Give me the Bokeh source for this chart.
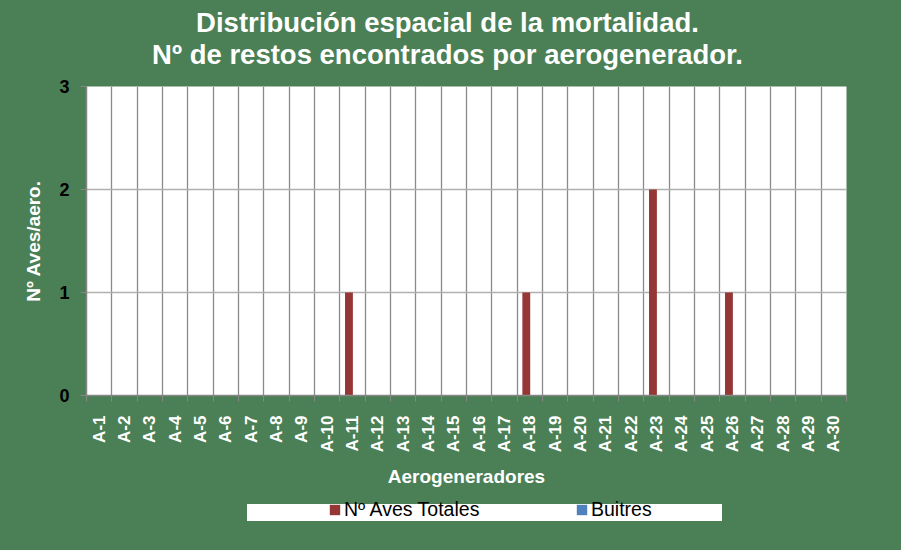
from math import pi
from bokeh.plotting import figure
from bokeh.layouts import column
from bokeh.models import (Range1d, FixedTicker, Legend, LegendItem, Label,
                          ColumnDataSource)
from bokeh.transform import dodge
from bokeh.embed import file_html
from bokeh.resources import INLINE

# ---- data ----
categories = ["A-%d" % i for i in range(1, 31)]
aves_totales = [0, 0, 0, 0, 0, 0, 0, 0, 0, 0, 1, 0, 0, 0, 0, 0, 0, 1, 0, 0,
                0, 0, 2, 0, 0, 1, 0, 0, 0, 0]
buitres = [0] * 30
y_ticks = [0, 1, 2, 3]

title_line1 = "Distribución espacial de la mortalidad."
title_line2 = "Nº de restos encontrados por aerogenerador."
y_label = "Nº Aves/aero."
x_label = "Aerogeneradores"
series_names = ["Nº Aves Totales", "Buitres"]

GREEN = "#4b7f56"
RED = "#953735"
BLUE = "#4f81bd"
FONT = "Liberation Sans"
W = 901


def strip(height):
    f = figure(width=W, height=height, output_backend="svg", toolbar_location=None,
               x_axis_type=None, y_axis_type=None,
               x_range=Range1d(0, W), y_range=Range1d(0, height),
               min_border=0, min_border_left=0, min_border_right=0,
               min_border_top=0, min_border_bottom=0)
    f.border_fill_color = GREEN
    f.background_fill_color = None
    f.outline_line_color = None
    f.grid.visible = False
    return f


# ---------- title strip (its frame is aligned with the chart frame) ----------
top = strip(70)
for txt, yy in [(title_line1, 48), (title_line2, 16)]:
    top.add_layout(Label(x=361, y=yy, x_units="screen", y_units="screen", text=txt,
                         text_align="center", text_baseline="middle",
                         text_font=FONT, text_font_style="bold",
                         text_font_size="27.5px", text_color="white"))

# ---------- main chart ----------
positions = list(range(1, len(categories) + 1))
p = figure(width=W, height=420, output_backend="svg", toolbar_location=None,
           x_range=Range1d(0.5, 30.5), y_range=Range1d(0, 3),
           min_border_left=86, min_border_right=55, min_border_top=16,
           min_border_bottom=95)
p.border_fill_color = GREEN
p.background_fill_color = "white"
p.outline_line_color = None

src = ColumnDataSource(dict(x=positions, aves=aves_totales, buitres=buitres))
# clustered bars: first series left of centre, second right of centre
p.vbar(x=dodge("x", -0.14, range=p.x_range), top="aves", width=0.31,
       source=src, fill_color=RED, line_color=None)
p.vbar(x=dodge("x", 0.16, range=p.x_range), top="buitres", width=0.31,
       source=src, fill_color=BLUE, line_color=None)

# x axis: labels at category centres, ticks/grid at category boundaries
p.xaxis.ticker = FixedTicker(ticks=positions,
                             minor_ticks=[i + 0.5 for i in range(0, 31)])
p.xaxis.major_label_overrides = {pos: lab for pos, lab in zip(positions, categories)}
p.xaxis.major_label_orientation = pi / 2
p.xaxis.major_tick_out = 0
p.xaxis.major_tick_in = 0
p.xaxis.minor_tick_out = 6
p.xaxis.minor_tick_in = 0
p.xaxis.minor_tick_line_color = "#868686"
p.xaxis.axis_line_color = "#868686"
p.xaxis.axis_line_width = 1.5
p.xaxis.major_label_standoff = 14
p.xaxis.major_label_text_font = FONT
p.xaxis.major_label_text_font_style = "bold"
p.xaxis.major_label_text_font_size = "17px"
p.xaxis.major_label_text_color = "white"
p.xaxis.axis_label = x_label
p.xaxis.axis_label_standoff = 11
p.xaxis.axis_label_text_font = FONT
p.xaxis.axis_label_text_font_style = "bold"
p.xaxis.axis_label_text_font_size = "19px"
p.xaxis.axis_label_text_color = "white"

p.xgrid.grid_line_color = None
p.xgrid.minor_grid_line_color = "#8a8a8a"
p.xgrid.minor_grid_line_width = 1.3

p.yaxis.ticker = FixedTicker(ticks=y_ticks)
p.yaxis.minor_tick_line_color = None
p.yaxis.major_tick_out = 6
p.yaxis.major_tick_in = 0
p.yaxis.major_tick_line_color = "#868686"
p.yaxis.axis_line_color = "#868686"
p.yaxis.axis_line_width = 1.5
p.yaxis.major_label_standoff = 11
p.yaxis.major_label_text_font = FONT
p.yaxis.major_label_text_font_style = "bold"
p.yaxis.major_label_text_font_size = "18px"
p.yaxis.major_label_text_color = "black"
p.yaxis.axis_label = y_label
p.yaxis.axis_label_standoff = 12
p.yaxis.axis_label_text_font = FONT
p.yaxis.axis_label_text_font_style = "bold"
p.yaxis.axis_label_text_font_size = "19px"
p.yaxis.axis_label_text_color = "white"
p.ygrid.grid_line_color = "#b0b0b0"
p.ygrid.grid_line_width = 1.3

# ---------- legend strip ----------
bot = strip(60)
# legend proxies: a single point placed outside the visible range
r_box = bot.vbar(x=[-50], top=[1], width=1, fill_alpha=0, line_alpha=0)
r_aves = bot.vbar(x=[-50], top=[1], width=1, fill_color=RED, line_color=None)
r_buit = bot.vbar(x=[-50], top=[1], width=1, fill_color=BLUE, line_color=None)

leg_box = Legend(items=[LegendItem(label=" ", renderers=[r_box])],
                 location=(161, 29), orientation="horizontal",
                 background_fill_color="white", background_fill_alpha=1,
                 border_line_color=None, padding=6, margin=0,
                 glyph_width=1, glyph_height=17, label_width=474,
                 label_height=17, label_standoff=0, label_text_font_size="28px")
bot.add_layout(leg_box)

leg = Legend(items=[LegendItem(label=series_names[0], renderers=[r_aves]),
                    LegendItem(label=series_names[1], renderers=[r_buit])],
             location=(242, 29), orientation="horizontal",
             background_fill_alpha=0, border_line_color=None, padding=3, margin=0,
             glyph_width=13, glyph_height=13, label_width=150, label_height=23,
             label_standoff=3, spacing=81,
             label_text_font=FONT, label_text_font_size="19.5px",
             label_text_color="black")
bot.add_layout(leg)

layout = column(top, p, bot, spacing=0, styles={"background-color": GREEN})
open("out.html", "w").write(file_html(layout, INLINE))
